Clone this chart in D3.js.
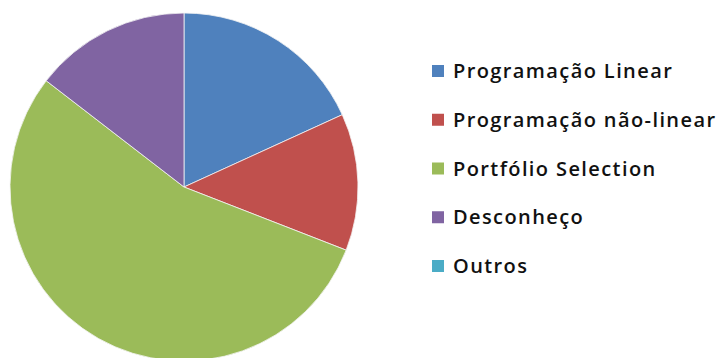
<!DOCTYPE html>
<html>
<head>
<meta charset="utf-8">
<script src="https://cdn.jsdelivr.net/npm/d3@7"></script>
<style>
  html, body { margin: 0; padding: 0; background: #fff; }
</style>
</head>
<body>
<svg></svg>
<script>
const categories = ["Programação Linear", "Programação não-linear", "Portfólio Selection", "Desconheço", "Outros"];
const values = [10, 7, 30, 8, 0];
const colors = ["#4F81BD", "#C0504D", "#9BBB59", "#8064A2", "#4BACC6"];

const width = 718, height = 358;

const svg = d3.select("svg")
    .attr("width", width)
    .attr("height", height)
    .style("font-family", "'Open Sans', sans-serif");

const data = categories.map((c, i) => ({ name: c, value: values[i], color: colors[i] }));

const pie = d3.pie()
    .value(d => d.value)
    .sort(null);

const arc = d3.arc()
    .innerRadius(0)
    .outerRadius(174);

const g = svg.append("g")
    .attr("transform", "translate(184,187)");

g.selectAll("path")
    .data(pie(data).filter(d => d.data.value > 0))
    .join("path")
    .attr("d", arc)
    .attr("fill", d => d.data.color)
    .attr("stroke", "#f4f4f4")
    .attr("stroke-width", 0.8);

// legend
const ly = d3.scalePoint()
    .domain(categories)
    .range([71, 266]);

const legend = svg.selectAll(".legend")
    .data(data)
    .join("g")
    .attr("class", "legend")
    .attr("transform", d => `translate(432,${ly(d.name)})`);

legend.append("rect")
    .attr("x", 0)
    .attr("y", -6)
    .attr("width", 12)
    .attr("height", 12)
    .attr("fill", d => d.color);

legend.append("text")
    .attr("x", 21)
    .attr("y", 7)
    .attr("font-size", "20px")
    .attr("font-weight", 600)
    .attr("letter-spacing", "1.4px")
    .attr("fill", "#111")
    .text(d => d.name);
</script>
</body>
</html>
